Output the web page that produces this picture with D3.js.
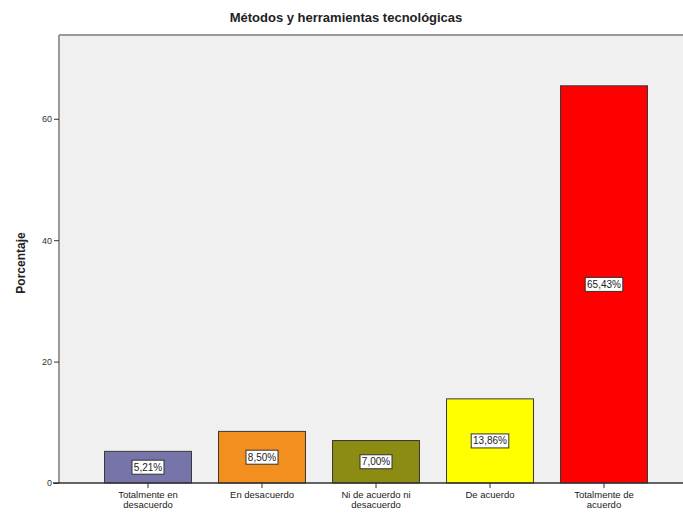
<!DOCTYPE html>
<html>
<head>
<meta charset="utf-8">
<script src="https://cdn.jsdelivr.net/npm/d3@7"></script>
<style>
  body { margin: 0; background: #fff; }
  svg { display: block; font-family: Arial, "Liberation Sans", sans-serif; }
</style>
</head>
<body>
<svg></svg>
<script>
// Dimensions
const width = 683;
const height = 515;

// Donnees
const categories = ["Totalmente en desacuerdo", "En desacuerdo", "Ni de acuerdo ni desacuerdo", "De acuerdo", "Totalmente de acuerdo"];
const tickLines = [["Totalmente en", "desacuerdo"], ["En desacuerdo"], ["Ni de acuerdo ni", "desacuerdo"], ["De acuerdo"], ["Totalmente de", "acuerdo"]];
const values = [5.21, 8.50, 7.00, 13.86, 65.43];
const colors = ["#7674a9", "#f28f1f", "#8c8c12", "#ffff00", "#ff0000"];
const yTicks = [0, 20, 40, 60];

const svg = d3.select("svg")
    .attr("width", width)
    .attr("height", height);

const plotLeft = 59, plotRight = 683, plotTop = 35, plotBottom = 483;

const x = d3.scaleBand()
    .domain(categories)
    .range([91, 661])
    .paddingInner(0.237)
    .paddingOuter(0.1185);

const y = d3.scaleLinear()
    .domain([0, 73.8])
    .range([plotBottom, plotTop]);

// Fond du graphique
svg.append("rect")
    .attr("x", plotLeft)
    .attr("y", plotTop)
    .attr("width", plotRight - plotLeft)
    .attr("height", plotBottom - plotTop)
    .attr("fill", "#f0f0f0");

svg.append("line")
    .attr("x1", plotLeft).attr("x2", plotRight)
    .attr("y1", plotTop).attr("y2", plotTop)
    .attr("stroke", "#9a9a9a")
    .attr("stroke-width", 2);

// Barres
svg.selectAll(".bar")
    .data(values)
    .enter()
    .append("rect")
    .attr("class", "bar")
    .attr("x", (d, i) => x(categories[i]))
    .attr("y", d => y(d))
    .attr("width", x.bandwidth())
    .attr("height", d => y(0) - y(d))
    .attr("fill", (d, i) => colors[i])
    .attr("stroke", "#3a3a3a")
    .attr("stroke-width", 1);

// Etiquettes des barres
const fmt = d => d.toFixed(2).replace(".", ",") + "%";
const labels = svg.selectAll(".lab")
    .data(values)
    .enter()
    .append("g")
    .attr("class", "lab")
    .attr("transform", (d, i) => `translate(${x(categories[i]) + x.bandwidth() / 2},${(y(d) + y(0)) / 2})`);

labels.append("rect")
    .attr("x", d => -(fmt(d).length * 5.6) / 2 - 2)
    .attr("y", -7)
    .attr("width", d => fmt(d).length * 5.6 + 4)
    .attr("height", 14)
    .attr("fill", "#fff")
    .attr("stroke", "#333")
    .attr("stroke-width", 1);

labels.append("text")
    .attr("text-anchor", "middle")
    .attr("dy", "0.35em")
    .attr("font-size", 10)
    .attr("fill", "#222")
    .text(d => fmt(d));

// Axe Y
const yAxis = svg.append("g")
    .attr("transform", `translate(${plotLeft},0)`)
    .call(d3.axisLeft(y).tickValues(yTicks).tickSize(5).tickSizeOuter(0));
yAxis.select(".domain").attr("stroke", "#9a9a9a").attr("stroke-width", 2)
    .attr("d", `M0,${plotTop}V${plotBottom}`);
yAxis.selectAll(".tick line").attr("stroke", "#333");
yAxis.selectAll(".tick text").attr("font-size", 9).attr("fill", "#333").attr("x", -7);

// Axe X
const xAxis = svg.append("g")
    .attr("transform", `translate(0,${plotBottom})`)
    .call(d3.axisBottom(x).tickSize(5).tickSizeOuter(0));
xAxis.select(".domain").attr("stroke", "#333").attr("stroke-width", 1.5)
    .attr("d", `M${plotLeft - 6},0H${plotRight}`);
xAxis.selectAll(".tick line").attr("stroke", "#333");
xAxis.selectAll(".tick text").remove();
xAxis.selectAll(".tick").each(function(d, i) {
    const t = d3.select(this).append("text")
        .attr("text-anchor", "middle")
        .attr("font-size", 9.5)
        .attr("fill", "#222");
    tickLines[i].forEach((line, j) => {
        t.append("tspan").attr("x", 0).attr("y", 15 + j * 10).text(line);
    });
});

// Titres
svg.append("text")
    .attr("x", 346)
    .attr("y", 22)
    .attr("text-anchor", "middle")
    .attr("font-size", 13)
    .attr("font-weight", "bold")
    .attr("fill", "#222")
    .text("Métodos y herramientas tecnológicas");

svg.append("text")
    .attr("transform", "translate(25,263) rotate(-90)")
    .attr("text-anchor", "middle")
    .attr("font-size", 12)
    .attr("font-weight", "bold")
    .attr("fill", "#222")
    .text("Porcentaje");
</script>
</body>
</html>
